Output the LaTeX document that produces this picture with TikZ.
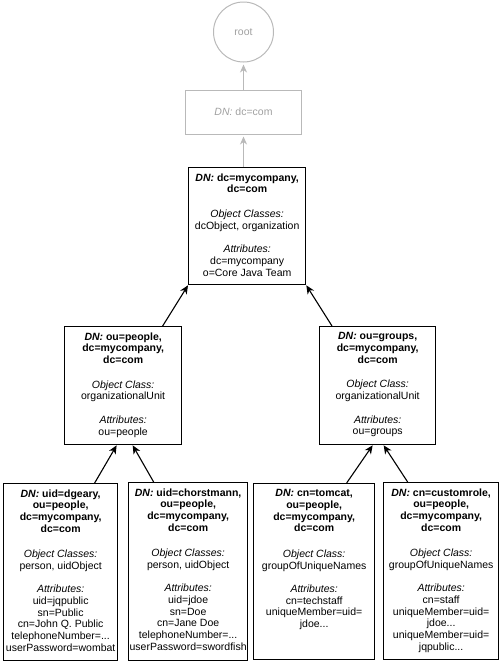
\documentclass[tikz,border=0pt]{standalone}
\usepackage{fontspec}
\setmainfont{Liberation Sans}
\usetikzlibrary{arrows.meta}
\definecolor{ltgray}{RGB}{185,185,185}
\definecolor{txgray}{RGB}{160,160,160}
\newcommand\entrytext[3]{\parbox[c][#2][t]{#1}{\fontsize{10.5}{11.7}\selectfont\centering\vspace*{5.8pt}#3}}
\newcommand\dnlabel{\textbf{\textit{DN:}}}
\begin{document}
\begin{tikzpicture}[x=1pt,y=-1pt,
  entry/.style={draw, line width=1.3pt, inner sep=0pt, anchor=north west},
  arr/.style={line width=1.1pt, -{Stealth[length=8.5pt,width=7.5pt,inset=2.5pt]}},
  grayarr/.style={draw=ltgray, line width=1pt, -{Stealth[length=8pt,width=7pt,inset=2.5pt]}, shorten >=2pt}]
\useasboundingbox (0,0) rectangle (500,662);

\node[circle, draw=ltgray, line width=1pt, minimum size=60pt, inner sep=0pt, text=txgray, font=\fontsize{10.5}{12}\selectfont] (root) at (243.5,32) {root};
\node[draw=ltgray, line width=1pt, minimum width=116pt, minimum height=44pt, inner sep=0pt, text=txgray, font=\fontsize{10.5}{12}\selectfont] (dccom) at (243.5,112) {\textit{DN:} dc=com};

\node[entry] (dcmy) at (188,167) {\entrytext{117pt}{117pt}{%
\dnlabel\ \textbf{dc=mycompany,}\\ \textbf{dc=com}\\[13pt]
\textit{Object Classes:}\\ dcObject, organization\\[12pt]
\textit{Attributes:}\\ dc=mycompany\\ o=Core Java Team}};

\node[entry] (people) at (64,326) {\entrytext{117pt}{118pt}{%
\dnlabel\ \textbf{ou=people,}\\ \textbf{dc=mycompany,}\\ \textbf{dc=com}\\[13pt]
\textit{Object Class:}\\ organizationalUnit\\[12pt]
\textit{Attributes:}\\ ou=people}};

\node[entry] (groups) at (319,326) {\entrytext{116pt}{118pt}{%
\dnlabel\ \textbf{ou=groups,}\\ \textbf{dc=mycompany,}\\ \textbf{dc=com}\\[13pt]
\textit{Object Class:}\\ organizationalUnit\\[12pt]
\textit{Attributes:}\\ ou=groups}};

\node[entry] (b1) at (3,483) {\entrytext{114pt}{177pt}{%
\dnlabel\ \textbf{uid=dgeary,}\\ \textbf{ou=people,}\\ \textbf{dc=mycompany,}\\ \textbf{dc=com}\\[14pt]
\textit{Object Classes:}\\ person, uidObject\\[11.5pt]
\textit{Attributes:}\\ uid=jqpublic\\ sn=Public\\ cn=John Q. Public\\ telephoneNumber=...\\ userPassword=wombat}};

\node[entry] (b2) at (128,482) {\entrytext{119pt}{178pt}{%
\dnlabel\ \textbf{uid=chorstmann,}\\ \textbf{ou=people,}\\ \textbf{dc=mycompany,}\\ \textbf{dc=com}\\[14pt]
\textit{Object Classes:}\\ person, uidObject\\[11.5pt]
\textit{Attributes:}\\ uid=jdoe\\ sn=Doe\\ cn=Jane Doe\\ telephoneNumber=...\\ userPassword=swordfish}};

\node[entry] (b3) at (253,483) {\entrytext{121pt}{176pt}{%
\dnlabel\ \textbf{cn=tomcat,}\\ \textbf{ou=people,}\\ \textbf{dc=mycompany,}\\ \textbf{dc=com}\\[14pt]
\textit{Object Class:}\\ groupOfUniqueNames\\[11.5pt]
\textit{Attributes:}\\ cn=techstaff\\ uniqueMember=uid=\\ jdoe...}};

\node[entry] (b4) at (383,482) {\entrytext{115pt}{177pt}{%
\dnlabel\ \textbf{cn=customrole,}\\ \textbf{ou=people,}\\ \textbf{dc=mycompany,}\\ \textbf{dc=com}\\[14pt]
\textit{Object Class:}\\ groupOfUniqueNames\\[11.5pt]
\textit{Attributes:}\\ cn=staff\\ uniqueMember=uid=\\ jdoe...\\ uniqueMember=uid=\\ jqpublic...}};

\draw[grayarr] (dccom.north) -- (root.south);
\draw[grayarr] (dcmy.north -| dccom.south) -- (dccom.south);
\draw[arr] ([xshift=39.5pt]people.north) -- (dcmy.south west);
\draw[arr] ([xshift=13pt]groups.north west) -- (dcmy.south east);
\draw[arr] ([xshift=34pt]b1.north) -- ([xshift=-6.5pt]people.south);
\draw[arr] ([xshift=-34.5pt]b2.north) -- ([xshift=9.5pt]people.south);
\draw[arr] ([xshift=32.5pt]b3.north) -- ([xshift=-5pt]groups.south);
\draw[arr] ([xshift=-33.5pt]b4.north) -- ([xshift=6pt]groups.south);
\end{tikzpicture}
\end{document}
